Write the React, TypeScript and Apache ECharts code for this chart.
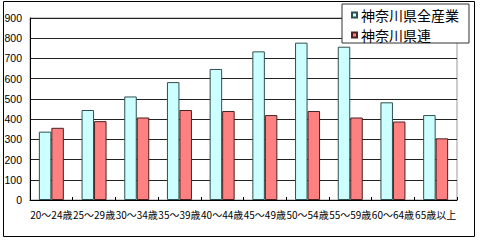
import React, { useEffect, useRef } from "react";
import * as echarts from "echarts";

const categories = ["20～24歳", "25～29歳", "30～34歳", "35～39歳", "40～44歳", "45～49歳", "50～54歳", "55～59歳", "60～64歳", "65歳以上"];
const seriesNames = ["神奈川県全産業", "神奈川県連"];
const allIndustry = [338, 445, 512, 583, 648, 735, 778, 758, 483, 420];
const union = [357, 390, 408, 445, 440, 420, 440, 408, 388, 305];
const yTicks = { min: 0, max: 900, interval: 100 };

export default function App() {
  const ref = useRef<HTMLDivElement>(null);
  useEffect(() => {
    document.body.style.margin = "0";
    const chart = echarts.init(ref.current!, null, { renderer: "svg" });
    chart.setOption({
      animation: false,
      backgroundColor: "#fff",
      textStyle: { fontFamily: "'Noto Sans CJK JP', sans-serif" },
      grid: { left: 30, right: 23, top: 18, bottom: 42, show: true, borderColor: "#999", borderWidth: 1 },
      legend: {
        orient: "vertical",
        left: 342,
        top: 4,
        width: 125,
        padding: [4, 10, 1, 9],
        itemWidth: 5,
        itemHeight: 5,
        itemGap: 6,
        icon: "rect",
        backgroundColor: "#fff",
        borderColor: "#333",
        borderWidth: 1,
        textStyle: { fontSize: 14, lineHeight: 14, color: "#000", fontFamily: "'Noto Sans CJK JP', sans-serif", padding: [0, 0, 0, -1] },
        data: seriesNames,
      },
      xAxis: {
        type: "category",
        data: categories,
        axisLine: { lineStyle: { color: "#000", width: 1 } },
        axisTick: { show: true, inside: true, length: 3, lineStyle: { color: "#000" } },
        axisLabel: { interval: 0, fontSize: 10, color: "#000", margin: 9, fontFamily: "'Noto Sans CJK JP', sans-serif" },
      },
      yAxis: {
        type: "value",
        min: yTicks.min,
        max: yTicks.max,
        interval: yTicks.interval,
        axisLine: { show: true, lineStyle: { color: "#000", width: 1 } },
        axisTick: { show: false },
        axisLabel: { fontSize: 10.5, color: "#000", margin: 8, fontFamily: "'Liberation Sans', Arial, sans-serif" },
        splitLine: { lineStyle: { color: "#222", width: 1 } },
      },
      series: [
        {
          name: seriesNames[0],
          type: "bar",
          data: allIndustry,
          barWidth: 12.5,
          barGap: "0%",
          itemStyle: { color: "#CCFFFF", borderColor: "#2f4f4f", borderWidth: 1 },
        },
        {
          name: seriesNames[1],
          type: "bar",
          data: union,
          barWidth: 12.5,
          barGap: "0%",
          itemStyle: { color: "#FF8080", borderColor: "#4a2020", borderWidth: 1 },
        },
      ],
      graphic: [
        {
          type: "rect",
          shape: { x: 3.5, y: 1.5, width: 471, height: 235 },
          style: { fill: "none", stroke: "#000", lineWidth: 1 },
          silent: true,
          z: 100,
        },
      ],
    });
    return () => chart.dispose();
  }, []);
  return <div ref={ref} style={{ width: 480, height: 242 }} />;
}
